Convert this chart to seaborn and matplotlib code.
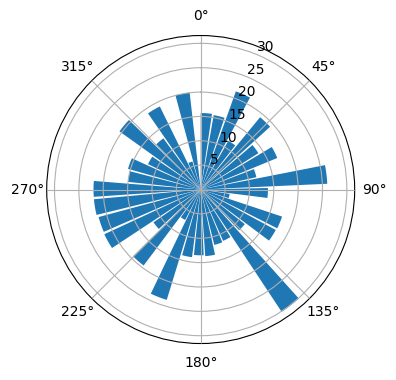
import numpy as np
import matplotlib
matplotlib.use("Agg")
import matplotlib.pyplot as plt
import seaborn as sns

# angle of each bar's start (degrees, clockwise from north)
bar_start_deg = [0.0, 9.9, 19.7, 29.6, 39.4, 49.3, 59.1, 69.0, 78.9,
                 88.7, 98.6, 108.4, 118.3, 128.1, 138.0, 147.9, 157.7, 167.6,
                 177.4, 187.3, 197.1, 207.0, 216.9, 226.7, 236.6, 246.4, 256.3,
                 266.1, 276.0, 285.9, 295.7, 305.6, 315.4, 325.3, 335.1, 345.0]
bar_height = [15.7, 15.5, 21.4, 11.5, 19.2, 14.0, 17.0, 11.7, 26.0,
              13.8, 6.0, 17.6, 17.5, 11.5, 30.1, 11.5, 11.7, 13.7,
              13.5, 14.0, 23.7, 7.0, 19.5, 11.8, 21.8, 21.7, 22.0,
              22.0, 15.0, 15.5, 12.0, 20.5, 13.0, 19.0, 6.0, 20.0]
bar_width_deg = 8.5

color = sns.color_palette("tab10")[0]

fig = plt.figure(figsize=(3.96, 3.80), dpi=100)
ax = fig.add_axes([0.1179, 0.096, 0.7778, 0.8105], projection="polar")
ax.set_theta_zero_location("N")
ax.set_theta_direction(-1)
ax.bar(np.deg2rad(bar_start_deg), bar_height, width=np.deg2rad(bar_width_deg),
       align="edge", color=color, zorder=1)
ax.set_axisbelow(False)
ax.grid(True, zorder=3)
fig.savefig("out.png", dpi=100)
